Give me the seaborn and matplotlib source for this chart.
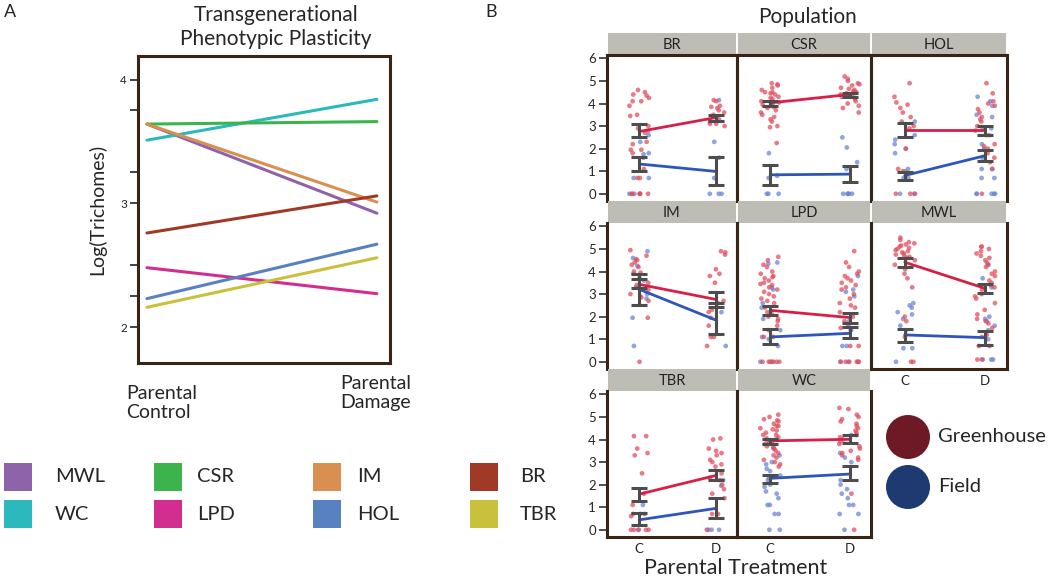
import numpy as np
import pandas as pd
import matplotlib
matplotlib.use("Agg")
import matplotlib.pyplot as plt
from matplotlib.patches import Rectangle, Ellipse
import seaborn as sns

sns.set_style("white")
plt.rcParams['font.family'] = ['Lato', 'DejaVu Sans']

W, H = 1050, 577

# ---- Panel A: population means, parental control vs damage
pops_a = ["MWL", "WC", "CSR", "LPD", "IM", "HOL", "BR", "TBR"]
ctrl_a = [3.64, 3.51, 3.64, 2.48, 3.64, 2.23, 2.76, 2.16]
dmg_a = [2.92, 3.84, 3.66, 2.27, 3.01, 2.67, 3.06, 2.56]
colors_a = ["#8e63a9", "#2bb9bd", "#3cb44b", "#d12e8f",
            "#d98f4f", "#5781c1", "#a03a26", "#c9c13c"]

# ---- Panel B: means and error bar ends, (C, D) per population
pops_b = ["BR", "CSR", "HOL", "IM", "LPD", "MWL", "TBR", "WC"]
gh_mean = [(2.76, 3.38), (4.03, 4.40), (2.82, 2.82), (3.43, 2.76),
           (2.28, 1.96), (4.41, 3.25), (1.58, 2.41), (3.94, 4.01)]
gh_lo = [(2.50, 3.24), (3.88, 4.28), (2.53, 2.60), (3.28, 2.43),
         (2.06, 1.74), (4.19, 3.03), (1.26, 2.19), (3.79, 3.84)]
gh_hi = [(3.09, 3.50), (4.13, 4.47), (3.12, 2.99), (3.87, 3.10),
         (2.47, 2.18), (4.60, 3.43), (1.87, 2.67), (4.04, 4.21)]
fd_mean = [(1.32, 0.99), (0.84, 0.87), (0.81, 1.69), (3.21, 1.84),
           (1.10, 1.26), (1.19, 1.07), (0.44, 0.95), (2.28, 2.47)]
fd_lo = [(0.99, 0.37), (0.38, 0.50), (0.62, 1.47), (2.50, 1.25),
         (0.81, 1.04), (0.88, 0.75), (0.19, 0.51), (2.07, 2.22)]
fd_hi = [(1.65, 1.62), (1.26, 1.24), (0.96, 1.94), (3.65, 2.62),
         (1.47, 1.54), (1.44, 1.37), (0.73, 1.39), (2.43, 2.81)]

# individual plants (gh = greenhouse, fd = field; c = control, d = damage)
br_gh_c = [4.6, 4.5, 4.4, 4.35, 4.25, 4.1, 4.1, 3.9, 3.5, 3.45, 3.0, 2.9, 2.8, 2.7,
           2.3, 2.2, 1.95, 1.95, 1.8, 1.1, 0.7, 0.7, 0, 0, 0, 0, 0, 0]
br_gh_d = [4.15, 4.1, 3.9, 3.85, 3.8, 3.7, 3.6, 3.5, 3.3, 3.2, 3.1, 3.1, 3.0]
br_fd_c = [2.6, 2.3, 1.8, 1.75, 1.6, 0.7, 0.7, 0, 0]
br_fd_d = [4.15, 2.3, 1.6, 0.7, 0, 0, 0]

csr_gh_c = [4.9, 4.85, 4.8, 4.7, 4.6, 4.5, 4.5, 4.4, 4.3, 4.25, 4.2, 4.1, 4.0, 3.95,
            3.9, 3.8, 3.7, 3.6, 3.5, 3.4, 3.3, 3.2, 3.0, 2.95, 2.25, 4.45, 4.05, 3.85]
csr_gh_d = [5.2, 5.1, 5.0, 4.9, 4.85, 4.8, 4.7, 4.6, 4.55, 4.5, 4.45, 4.4, 4.35,
            4.3, 4.2, 4.1, 4.0, 3.9, 3.8, 3.6, 4.65, 4.25, 4.5]
csr_fd_c = [1.8, 0.8, 0.7, 0, 0, 0]
csr_fd_d = [2.5, 2.05, 1.4, 1.1, 0, 0, 0, 0, 0]

hol_gh_c = [4.9, 4.3, 4.05, 3.95, 3.8, 3.6, 3.4, 3.2, 3.0, 2.9, 2.0, 1.1, 1.0, 0, 0, 0]
hol_gh_d = [4.9, 4.45, 4.1, 4.0, 3.9, 3.75, 3.6, 3.4, 3.3, 3.2, 3.0, 2.9, 2.8, 2.6,
            2.2, 2.1, 2.0, 1.8, 1.6, 1.4, 1.1, 0]
hol_fd_c = [3.2, 2.6, 2.4, 2.2, 2.0, 1.8, 1.1, 1.0, 0.7, 0.7, 0, 0]
hol_fd_d = [4.3, 4.1, 3.9, 3.5, 3.4, 2.9, 2.6, 2.2, 2.0, 1.6, 1.1, 1.1, 0.7, 0.7,
            0, 0, 0, 0, 0]

im_gh_c = [4.95, 4.7, 4.55, 4.5, 4.4, 4.3, 4.2, 4.0, 3.95, 3.9, 3.7, 3.5, 3.4, 3.2,
           3.0, 2.9, 2.85, 2.7, 1.95, 0]
im_gh_d = [4.9, 4.85, 4.75, 4.1, 3.9, 3.8, 3.5, 2.7, 2.6, 2.3, 2.2, 1.95, 1.6,
           1.1, 1.1, 0.7]
im_fd_c = [4.9, 4.6, 4.25, 3.6, 3.3, 3.0, 2.8, 1.95, 0.7]
im_fd_d = [2.2, 0.7]

lpd_gh_c = [4.65, 4.5, 4.3, 4.2, 4.0, 3.9, 3.8, 3.75, 3.7, 3.6, 3.5, 3.45, 3.4, 3.3,
            3.2, 3.1, 3.0, 2.9, 2.8, 2.7, 2.6, 2.4, 2.2, 2.1, 2.0, 1.9, 1.8, 1.6,
            1.4, 1.1, 1.1, 0, 0, 0, 0, 0, 0]
lpd_gh_d = [4.9, 4.4, 4.2, 4.0, 3.9, 3.8, 3.7, 3.6, 3.5, 3.4, 3.3, 3.2, 3.0, 2.8,
            2.6, 2.5, 2.4, 2.2, 2.0, 1.8, 1.6, 1.5, 0.7, 0.7, 0, 0, 0, 0, 0, 0]
lpd_fd_c = [4.4, 4.35, 3.3, 3.2, 2.6, 2.4, 1.9, 1.4, 1.1, 1.0, 0.7, 0, 0]
lpd_fd_d = [3.8, 3.2, 3.1, 2.9, 1.8, 1.4, 1.4, 0.7, 0.7, 0, 0]

mwl_gh_c = [5.5, 5.4, 5.3, 5.25, 5.2, 5.1, 5.05, 5.0, 4.95, 4.9, 4.85, 4.8, 4.75,
            4.7, 4.6, 4.5, 4.3, 4.1, 3.9, 3.7, 3.3, 2.0, 1.8, 1.1, 0, 0, 5.15, 4.65]
mwl_gh_d = [5.1, 5.1, 5.0, 4.9, 4.8, 4.7, 4.6, 4.5, 4.4, 4.3, 4.2, 4.0, 3.9, 3.8,
            3.6, 3.5, 3.4, 3.3, 3.2, 3.0, 2.9, 2.8, 2.6, 2.3, 2.1, 1.9, 1.8, 1.7,
            1.5, 1.2, 1.1, 0.7, 0.7, 0.1, 0.1]
mwl_fd_c = [2.6, 2.5, 2.4, 2.2, 2.1, 1.9, 1.6, 1.4, 0.6, 0.6, 0]
mwl_fd_d = [4.3, 3.7, 3.3, 2.0, 1.9, 1.8, 1.6, 1.4, 1.0, 0.1, 0.1, 0.1]

tbr_gh_c = [4.15, 4.15, 3.6, 3.4, 3.3, 2.5, 1.6, 1.1, 0.7, 0.7, 0.6, 0, 0, 0, 0, 0]
tbr_gh_d = [4.05, 4.0, 3.6, 3.5, 3.4, 3.3, 3.1, 3.0, 2.9, 2.8, 2.5, 2.3, 2.2, 2.0,
            1.8, 1.6, 1.4, 0.7, 0.7, 0]
tbr_fd_c = [1.1, 0.7, 0]
tbr_fd_d = [2.2, 1.95, 0, 0, 0]

wc_gh_c = [5.1, 5.0, 4.9, 4.85, 4.8, 4.7, 4.6, 4.5, 4.45, 4.4, 4.3, 4.2, 4.1, 4.0,
           3.95, 3.9, 3.8, 3.7, 3.6, 3.5, 3.4, 3.3, 3.2, 3.1, 3.0, 2.9, 2.8, 4.2,
           4.6, 3.85, 4.05, 3.65]
wc_gh_d = [5.4, 5.35, 5.1, 5.0, 4.9, 4.8, 4.7, 4.6, 4.5, 4.4, 4.3, 4.2, 4.1, 4.0,
           3.9, 3.8, 3.7, 3.6, 3.5, 3.4, 3.3, 3.2, 3.1, 1.6, 0]
wc_fd_c = [3.6, 3.3, 3.0, 2.9, 2.7, 2.6, 2.4, 2.3, 2.2, 2.0, 1.9, 1.7, 1.6, 1.4,
           1.1, 1.1, 0.7, 0.7, 0, 0]
wc_fd_d = [4.2, 3.4, 3.2, 3.0, 2.2, 2.0, 1.8, 1.6, 1.4, 1.1, 1.1, 0.7, 0.7, 0]

points = {
    "BR": (br_gh_c, br_gh_d, br_fd_c, br_fd_d),
    "CSR": (csr_gh_c, csr_gh_d, csr_fd_c, csr_fd_d),
    "HOL": (hol_gh_c, hol_gh_d, hol_fd_c, hol_fd_d),
    "IM": (im_gh_c, im_gh_d, im_fd_c, im_fd_d),
    "LPD": (lpd_gh_c, lpd_gh_d, lpd_fd_c, lpd_fd_d),
    "MWL": (mwl_gh_c, mwl_gh_d, mwl_fd_c, mwl_fd_d),
    "TBR": (tbr_gh_c, tbr_gh_d, tbr_fd_c, tbr_fd_d),
    "WC": (wc_gh_c, wc_gh_d, wc_fd_c, wc_fd_d),
}

rows = []
for p, (ghc, ghd, fdc, fdd) in points.items():
    for src, t, vals in [("Field", 0, fdc), ("Field", 1, fdd),
                         ("Greenhouse", 0, ghc), ("Greenhouse", 1, ghd)]:
        for v in vals:
            rows.append((p, src, t, v))
df_b = pd.DataFrame(rows, columns=["pop", "source", "treat", "value"])

df_a = pd.DataFrame({
    "pop": pops_a * 2,
    "x": [0] * len(pops_a) + [1] * len(pops_a),
    "value": ctrl_a + dmg_a,
})

EDGE = "#3a2416"
pt_pal = {"Greenhouse": "#e0505f", "Field": "#6a86d6"}


def px_axes(fig, x0, y0, x1, y1, **kw):
    return fig.add_axes([x0 / W, 1 - y1 / H, (x1 - x0) / W, (y1 - y0) / H], **kw)


fig = plt.figure(figsize=(W / 100, H / 100), dpi=100)

# ---------------- Panel A
axA = px_axes(fig, 138, 56, 390, 363)
sns.lineplot(data=df_a, x="x", y="value", hue="pop", hue_order=pops_a,
             palette=dict(zip(pops_a, colors_a)), lw=2.2, legend=False, ax=axA)
axA.set_xlim(-0.039, 1.057)
axA.set_ylim(1.71, 4.19)
axA.set_xticks([])
axA.set_yticks([2, 3, 4])
axA.set_yticks([2.25, 2.5, 3.25, 3.75], minor=True)
axA.tick_params(axis="y", which="both", left=True, length=6, width=1.2,
                color="#222", labelsize=8.5, pad=2)
axA.set_xlabel("")
axA.set_ylabel("Log(Trichomes)", fontsize=14, labelpad=10)
for s in axA.spines.values():
    s.set_color(EDGE)
    s.set_linewidth(2.2)

fig.text(276 / W, 1 - 27 / H, "Transgenerational\nPhenotypic Plasticity",
         ha="center", va="center", fontsize=15, linespacing=1.2)
fig.text(4 / W, 1 - 12 / H, "A", fontsize=13, va="center")
fig.text(126 / W, 1 - 403 / H, "Parental\nControl", ha="left", va="center",
         fontsize=14, linespacing=1.15)
fig.text(340 / W, 1 - 393 / H, "Parental\nDamage", ha="left", va="center",
         fontsize=14, linespacing=1.15)

# legend swatches for panel A
leg_cols = [(4, 55), (154, 197), (313, 357), (470, 520)]
leg_rows = [463, 500]
leg_order = [["MWL", "WC"], ["CSR", "LPD"], ["IM", "HOL"], ["BR", "TBR"]]
col_of = dict(zip(pops_a, colors_a))
for (sx, tx), names in zip(leg_cols, leg_order):
    for ry, name in zip(leg_rows, names):
        fig.patches.append(Rectangle((sx / W, 1 - (ry + 28) / H), 28 / W, 28 / H,
                                     transform=fig.transFigure,
                                     facecolor=col_of[name], edgecolor="none"))
        fig.text(tx / W, 1 - (ry + 14) / H, name, fontsize=14.5, va="center")

# ---------------- Panel B
col_x = [(607, 737), (737, 871), (871, 1007)]
strip_top = [33, 201, 369]
STRIP_H = 22
AX_H = 146
n_rows_in_col = [3, 3, 2]
np.random.seed(4)

for i, p in enumerate(pops_b):
    r, c = divmod(i, 3)
    x0, x1 = col_x[c]
    st = strip_top[r]
    sax = px_axes(fig, x0 + 1, st, x1 - 1, st + STRIP_H)
    sax.set_facecolor("#bebdb5")
    sax.set_xticks([])
    sax.set_yticks([])
    for s in sax.spines.values():
        s.set_visible(False)
    sax.text(0.5, 0.45, p, ha="center", va="center", fontsize=10.5,
             transform=sax.transAxes, color="#222")

    ax = px_axes(fig, x0, st + STRIP_H, x1, st + STRIP_H + AX_H)
    ax.patch.set_alpha(0)
    sub = df_b[df_b["pop"] == p]
    sns.stripplot(data=sub, x="treat", y="value", hue="source",
                  hue_order=["Field", "Greenhouse"], palette=pt_pal,
                  native_scale=True, orient="x", jitter=0.13, size=3.4,
                  alpha=0.75, linewidth=0, legend=False, ax=ax, zorder=1)
    ax.plot([0, 1], gh_mean[i], color="#d81f47", lw=2, zorder=3)
    ax.plot([0, 1], fd_mean[i], color="#2d56b8", lw=2, zorder=3)
    for mean, lo, hi in [(gh_mean[i], gh_lo[i], gh_hi[i]),
                         (fd_mean[i], fd_lo[i], fd_hi[i])]:
        m = np.array(mean)
        ax.errorbar([0, 1], m, yerr=[m - np.array(lo), np.array(hi) - m],
                    fmt="none", ecolor="#4d4d4d", elinewidth=2.2, capsize=6,
                    capthick=2.2, zorder=4)
    ax.set_xlim(-0.42, 1.27)
    ax.set_ylim(-0.32, 6.15)
    ax.set_xlabel("")
    ax.set_ylabel("")

    last = (r == n_rows_in_col[c] - 1)
    for side, s in ax.spines.items():
        s.set_color(EDGE)
        s.set_linewidth(2.2)
    ax.spines["top"].set_visible(r == 0)
    ax.spines["bottom"].set_visible(last)

    ax.set_xticks([0, 1])
    if last:
        ax.set_xticklabels(["C", "D"], fontsize=9.5, color="#222")
    else:
        ax.set_xticklabels([])
    ax.tick_params(axis="x", length=0, pad=4)
    if c == 0:
        ax.set_yticks(range(0, 7))
        ax.tick_params(axis="y", left=True, length=6, width=1.2, color="#333",
                       labelsize=9.5, pad=2)
    else:
        ax.set_yticks([])

fig.text(485 / W, 1 - 12 / H, "B", fontsize=13, va="center")
fig.text(807 / W, 1 - 17 / H, "Population", ha="center", va="center", fontsize=15)
fig.text(736 / W, 1 - 568 / H, "Parental Treatment", ha="center", va="center",
         fontsize=15.5)

# group legend (greenhouse / field)
for cy, lab, colr in [(437, "Greenhouse", "#6d1a26"), (487, "Field", "#1f3a70")]:
    fig.patches.append(Ellipse((908 / W, 1 - cy / H), 44 / W, 44 / H,
                               transform=fig.transFigure, facecolor=colr,
                               edgecolor="none"))
    fig.text(938 / W, 1 - cy / H, lab, fontsize=14.5, va="center")

fig.savefig("out.png", dpi=100)
